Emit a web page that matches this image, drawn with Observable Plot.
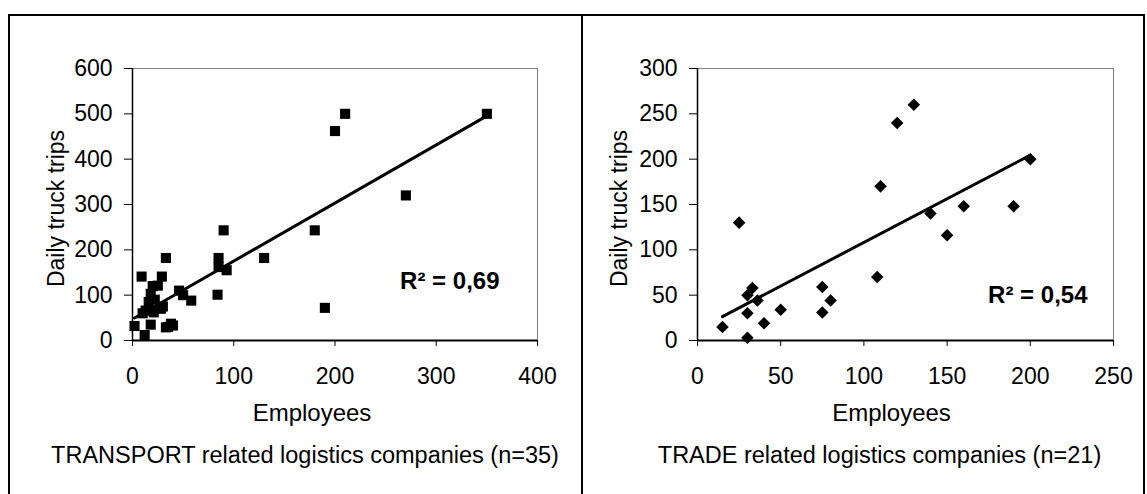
<!DOCTYPE html>
<html><head><meta charset="utf-8">
<script src="https://cdn.jsdelivr.net/npm/d3@7"></script>
<script src="https://cdn.jsdelivr.net/npm/@observablehq/plot@0.6"></script>
<style>
body{margin:0;background:#fff}
#wrap{position:relative;width:1147px;height:494px;overflow:hidden;background:#fff;font-family:"Liberation Sans",Arial,sans-serif}
.panel{position:absolute;top:0}
.panel svg{background:transparent !important;max-width:none !important;display:block}
</style></head><body>
<div id="wrap">
<div class="panel" id="left" style="left:0;width:582px"></div>
<div class="panel" id="right" style="left:582px;width:565px"></div>
<div style="position:absolute;left:8px;top:14px;width:1133px;height:520px;border:2px solid #000"></div>
<div style="position:absolute;left:581px;top:14px;width:2px;height:500px;background:#000"></div>
</div>
<script>
// TRANSPORT related logistics companies (n=35)
const transportEmployees = [350,210,200,270,180,190,130,90,85,85,93,84,58,46,50,33,9,29,25,20,18,16,13,28,21,10,30,2,12,18,33,38,40,22,35];
const transportTrips     = [500,500,462,320,243,72,182,243,182,162,155,101,88,110,100,182,141,141,121,120,103,85,66,70,62,60,75,32,12,35,29,37,33,90,30];
// TRADE related logistics companies (n=21)
const tradeEmployees = [200,130,120,110,108,140,160,190,150,25,15,30,30,30,33,36,40,50,75,75,80];
const tradeTrips     = [200,260,240,170,70,140,148,148,116,130,15,3,30,50,58,44,19,34,59,31,44];

const transportXTicks = [0,100,200,300,400];
const transportYTicks = [0,100,200,300,400,500,600];
const tradeXTicks = [0,50,100,150,200,250];
const tradeYTicks = [0,50,100,150,200,250,300];

const xLabel = "Employees";
const yLabel = "Daily truck trips";
const transportCaption = "TRANSPORT related logistics companies (n=35)";
const tradeCaption = "TRADE related logistics companies (n=21)";
const transportR2 = "R² = 0,69";
const tradeR2 = "R² = 0,54";

function chart(cfg) {
  const data = cfg.xs.map((x, i) => ({x, y: cfg.ys[i]}));
  return Plot.plot({
    width: cfg.width, height: 494,
    marginLeft: cfg.ml, marginRight: cfg.mr, marginTop: 68, marginBottom: 154,
    style: {fontFamily: '"Liberation Sans", Arial, sans-serif', fontSize: "23px", color: "#000", background: "transparent"},
    x: {domain: [cfg.xTicks[0], cfg.xTicks[cfg.xTicks.length - 1]]},
    y: {domain: [cfg.yTicks[0], cfg.yTicks[cfg.yTicks.length - 1]]},
    marks: [
      Plot.frame({stroke: "#808080", strokeWidth: 1}),
      Plot.axisX({ticks: cfg.xTicks, tickSize: 6, tickPadding: 21, label: null, fontSize: 23, tickFormat: d => String(d)}),
      Plot.axisY({ticks: cfg.yTicks, tickSize: 8, tickPadding: 12, label: null, fontSize: 23, tickFormat: d => String(d)}),
      Plot.ruleX([cfg.xTicks[0]], {stroke: "#000", strokeWidth: 1.5}),
      Plot.ruleY([cfg.yTicks[0]], {stroke: "#000", strokeWidth: 2}),
      Plot.linearRegressionY(data, {x: "x", y: "y", ci: 0, stroke: "#000", strokeWidth: 3}),
      Plot.dot(data, {x: "x", y: "y", symbol: "square", r: cfg.r, fill: "#000", stroke: "none", rotate: cfg.rotate}),
      Plot.text([cfg.r2], {frameAnchor: "bottom-right", dx: cfg.r2dx, dy: cfg.r2dy, textAnchor: "end", lineAnchor: "middle", fontWeight: "bold", fontSize: 24, fill: "#000"}),
      Plot.text([xLabel], {frameAnchor: "bottom", dx: cfg.xldx, dy: 73, lineAnchor: "middle", fontSize: 24, fill: "#000"}),
      Plot.text([cfg.caption], {frameAnchor: "bottom", dx: cfg.capdx, dy: 115, lineAnchor: "middle", fontSize: 23.5, fill: "#000"}),
      Plot.text([yLabel], {frameAnchor: "left", dx: cfg.yldx, dy: 4, rotate: -90, textAnchor: "middle", lineAnchor: "middle", fontSize: 23, fill: "#000"})
    ]
  });
}

document.getElementById("left").append(chart({
  xs: transportEmployees, ys: transportTrips, xTicks: transportXTicks, yTicks: transportYTicks,
  width: 582, ml: 132, mr: 45, r: 5.7, rotate: 0,
  r2: transportR2, r2dx: -38, r2dy: -59, xldx: -23, capdx: -30, yldx: -76, caption: transportCaption
}));
document.getElementById("right").append(chart({
  xs: tradeEmployees, ys: tradeTrips, xTicks: tradeXTicks, yTicks: tradeYTicks,
  width: 565, ml: 115, mr: 34, r: 5, rotate: 45,
  r2: tradeR2, r2dx: -26, r2dy: -45, xldx: -14, capdx: -26, yldx: -78, caption: tradeCaption
}));
</script>
</body></html>
